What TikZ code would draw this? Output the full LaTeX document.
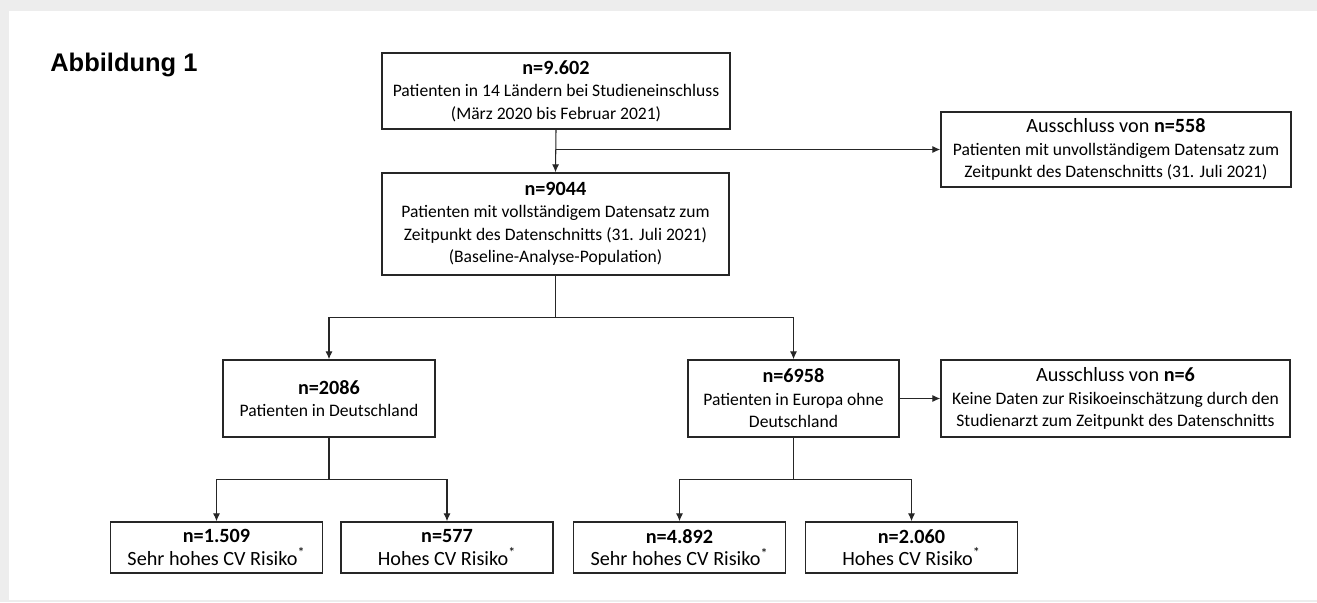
\documentclass[tikz,border=0pt]{standalone}
\usepackage{fontspec}
\setmainfont{Carlito}
\newfontfamily\titlefont{Liberation Sans}
\usepackage{tikz}
\usetikzlibrary{arrows.meta}

\tikzset{
  box/.style={draw=black!85, line width=0.9pt, align=center, inner sep=0pt, font=\fontsize{10}{12.8}\selectfont},
  arr/.style={draw=black!85, line width=0.6pt, -{Latex[length=4.5pt,width=4pt]}}
}
\newcommand{\nbig}[1]{{\fontsize{11.5}{12.8}\selectfont #1}}

\begin{document}
\begin{tikzpicture}[x=0.02cm, y=-0.02cm]
  \fill[black!7] (0,0) rectangle (1317,602);
  \fill[white] (9,11) rectangle (1317,600);
  \node[anchor=west, inner sep=0pt, font=\titlefont\bfseries\fontsize{14.5}{17}\selectfont] (title) at (50,65) {Abbildung 1};

  \node[box, minimum width=6.96cm, minimum height=1.52cm] (top) at (556,91)
    {\nbig{\bfseries n=9.602}\\Patienten in 14 Ländern bei Studieneinschluss\\(März 2020 bis Februar 2021)};
  \node[box, minimum width=7cm, minimum height=1.5cm] (excl1) at (1116,149.5)
    {\nbig{Ausschluss von \bfseries n=558}\\Patienten mit unvollständigem Datensatz zum\\Zeitpunkt des Datenschnitts (31. Juli 2021)};
  \node[box, minimum width=6.94cm, minimum height=2.04cm] (all) at (555.5,224)
    {\nbig{\bfseries n=9044}\\Patienten mit vollständigem Datensatz zum\\Zeitpunkt des Datenschnitts (31. Juli 2021)\\(Baseline-Analyse-Population)};
  \node[box, minimum width=4.24cm, minimum height=1.54cm] (de) at (329,398.5)
    {\nbig{\bfseries n=2086}\\Patienten in Deutschland};
  \node[box, minimum width=4.22cm, minimum height=1.54cm] (eu) at (793.5,398.5)
    {\nbig{\bfseries n=6958}\\Patienten in Europa ohne\\Deutschland};
  \node[box, minimum width=6.98cm, minimum height=1.54cm] (excl2) at (1115.5,398.5)
    {\nbig{Ausschluss von \bfseries n=6}\\Keine Daten zur Risikoeinschätzung durch den\\Studienarzt zum Zeitpunkt des Datenschnitts};
  \foreach \nm/\px/\val/\lbl in {dehigh/216.5/1.509/Sehr hohes, demid/447/577/Hohes, euhigh/679.5/4.892/Sehr hohes, eumid/911.5/2.060/Hohes}
    \node[box, minimum width=4.24cm, minimum height=1.02cm] (\nm) at (\px,547.5)
      {\nbig{\bfseries n=\val}\\\nbig{\lbl{} CV Risiko\textsuperscript{*}}};

  \draw[arr] (top.south) -- (all.north);
  \draw[arr] (top.south |- excl1.west) -- (excl1.west);
  \draw[arr] (all.south) -- ++(0,42) -| (de.north);
  \draw[arr] (all.south) ++(0,42) -| (eu.north);
  \draw[arr] (eu.east) -- (excl2.west);
  \draw[arr] (de.south) -- ++(0,42) -| (dehigh.north);
  \draw[arr] (de.south) ++(0,42) -| (demid.north);
  \draw[arr] (eu.south) -- ++(0,42) -| (euhigh.north);
  \draw[arr] (eu.south) ++(0,42) -| (eumid.north);
\end{tikzpicture}
\end{document}
